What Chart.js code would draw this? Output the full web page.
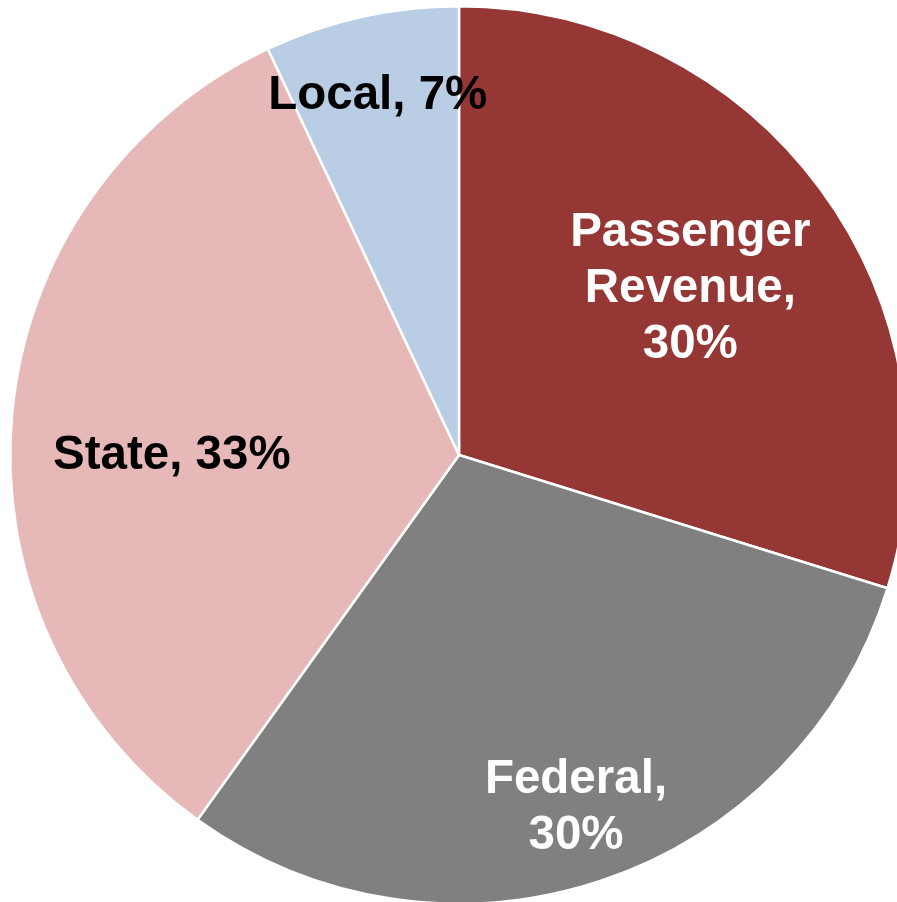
<!DOCTYPE html>
<html>
<head>
<meta charset="utf-8">
<script src="https://cdn.jsdelivr.net/npm/chart.js@4/dist/chart.umd.min.js"></script>
<style>
  html, body { margin: 0; padding: 0; background: #fff; overflow: hidden; }
  #wrap { position: absolute; left: 0; top: 0; width: 914px; height: 910px; }
</style>
</head>
<body>
<div id="wrap"><canvas id="pie"></canvas></div>
<script>
// categories and values (clockwise from 12 o'clock)
const categories = ['Passenger Revenue', 'Federal', 'State', 'Local'];
const shares = [29.8, 30.1, 33.1, 7.0];
const shownPct = [30, 30, 33, 7];
const labelLines = [
  ['Passenger', 'Revenue,', shownPct[0] + '%'],
  ['Federal,', shownPct[1] + '%'],
  ['State, ' + shownPct[2] + '%'],
  ['Local, ' + shownPct[3] + '%']
];

const colors = ['#953735', '#808080', '#E6B9B8', '#B9CDE5'];
const textColors = ['#ffffff', '#ffffff', '#000000', '#000000'];
const labelRadius = [0.64, 0.82, 0.64, 0.83];
const labelAngleShift = [0, 0, -0.08, 0];

const sliceLabels = {
  id: 'sliceLabels',
  afterDatasetsDraw(chart) {
    const ctx = chart.ctx;
    const arcs = chart.getDatasetMeta(0).data;
    ctx.save();
    ctx.font = 'bold 47.5px "Liberation Sans", Arial, sans-serif';
    ctx.textAlign = 'center';
    ctx.textBaseline = 'middle';
    arcs.forEach((arc, i) => {
      const mid = (arc.startAngle + arc.endAngle) / 2 + labelAngleShift[i];
      const r = arc.outerRadius * labelRadius[i];
      const x = arc.x + Math.cos(mid) * r;
      const y = arc.y + Math.sin(mid) * r + 4;
      const lines = labelLines[i];
      const lh = 56;
      ctx.fillStyle = textColors[i];
      lines.forEach((t, k) => {
        ctx.fillText(t, x, y + (k - (lines.length - 1) / 2) * lh);
      });
    });
    ctx.restore();
  }
};

new Chart(document.getElementById('pie'), {
  type: 'pie',
  data: {
    labels: categories,
    datasets: [{
      data: shares,
      backgroundColor: colors,
      borderColor: '#ffffff',
      borderWidth: 2.5
    }]
  },
  options: {
    responsive: true,
    maintainAspectRatio: false,
    animation: false,
    layout: { padding: { left: 9, right: 5, top: 5, bottom: 5 } },
    plugins: {
      legend: { display: false },
      tooltip: { enabled: false }
    }
  },
  plugins: [sliceLabels]
});
</script>
</body>
</html>
